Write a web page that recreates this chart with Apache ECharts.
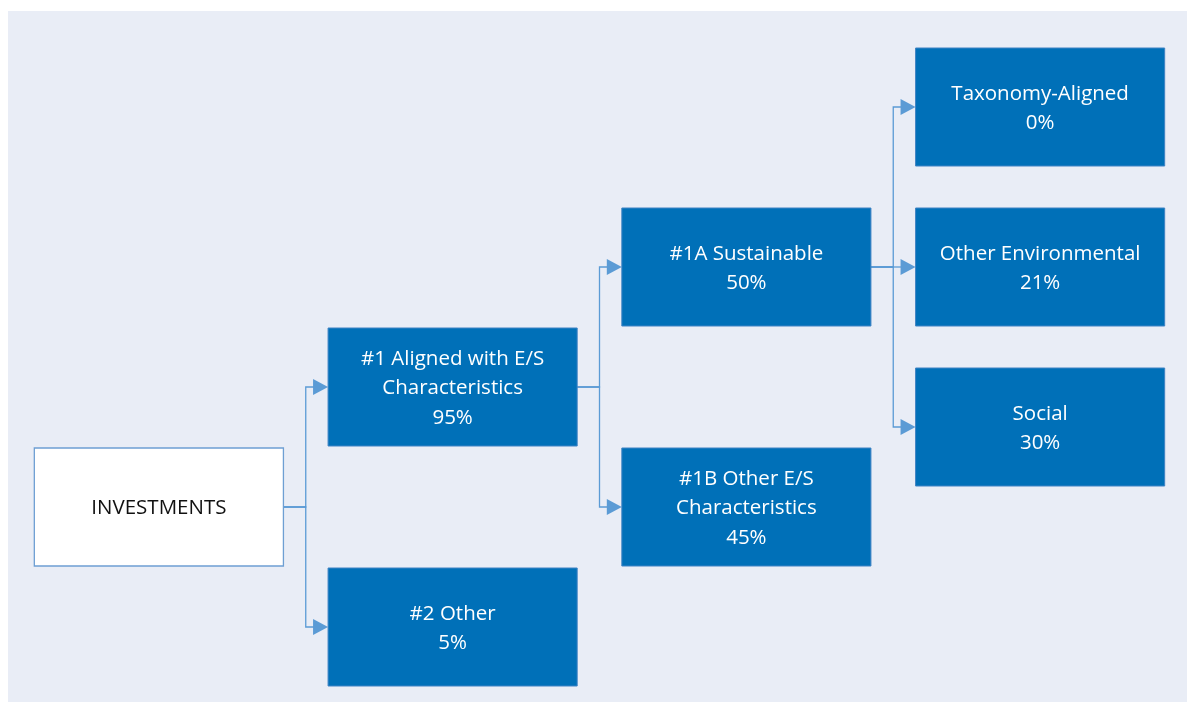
<!DOCTYPE html>
<html>
<head>
<meta charset="utf-8">
<script src="https://cdn.jsdelivr.net/npm/echarts@6/dist/echarts.min.js"></script>
<style>
html,body{margin:0;padding:0;background:#ffffff;}
#chart{width:1187px;height:702px;}
</style>
</head>
<body>
<div id="chart"></div>
<script>
// ---- data ----
const nodeNames = [
  'INVESTMENTS',
  '#1 Aligned with E/S\nCharacteristics',
  '#2 Other',
  '#1A Sustainable',
  '#1B Other E/S\nCharacteristics',
  'Taxonomy-Aligned',
  'Other Environmental',
  'Social'
];
const nodeValues = [null, 95, 5, 50, 45, 0, 21, 30];   // percent
const nodeLevels = [0, 1, 1, 2, 2, 3, 3, 3];           // column
const nodeRows   = [10, 7, 13, 4, 10, 0, 4, 8];        // vertical slot
const nodeParents = [-1, 0, 0, 1, 1, 3, 3, 3];

// ---- build ----
const BOX_W = 0.848;  // in column units
const BOX_H = 2.95;   // in row units
const LINE = '#5B9BD5';
const FILL = '#0070B8';
const FONT = '"Open Sans", "Noto Sans", sans-serif';

const nodeData = nodeNames.map((n, i) => ({
  value: [nodeLevels[i], nodeRows[i]],
  label: nodeValues[i] === null ? n : n + '\n' + nodeValues[i] + '%',
  root: nodeValues[i] === null
}));

const edgeData = [];
nodeParents.forEach((p, i) => {
  if (p >= 0) edgeData.push({value: [nodeLevels[p], nodeRows[p], nodeLevels[i], nodeRows[i]]});
});

const chart = echarts.init(document.getElementById('chart'), null, {renderer: 'canvas'});
chart.setOption({
  backgroundColor: '#ffffff',
  animation: false,
  graphic: [{
    type: 'rect', z: -10, silent: true,
    shape: {x: 8, y: 11, width: 1179, height: 691},
    style: {fill: '#E9EDF6'}
  }],
  grid: {left: 12, right: 0, top: 0, bottom: 0},
  xAxis: {type: 'value', min: -0.5, max: 3.5, show: false},
  yAxis: {type: 'value', min: -2.675, max: 14.875, inverse: true, show: false},
  series: [
    {
      type: 'custom',
      z: 1,
      data: edgeData.map(d => d.value),
      renderItem: function (params, api) {
        const p = api.coord([api.value(0), api.value(1)]);
        const c = api.coord([api.value(2), api.value(3)]);
        const sz = api.size([BOX_W, BOX_H]);
        const px = p[0] + sz[0] / 2;
        const cx = c[0] - sz[0] / 2;
        const mx = (px + cx) / 2;
        const arrowLen = 15, arrowH = 8;
        return {
          type: 'group',
          children: [
            {
              type: 'polyline',
              shape: {points: [[px, p[1]], [mx, p[1]], [mx, c[1]], [cx - arrowLen + 1, c[1]]]},
              style: {stroke: LINE, lineWidth: 1.3, fill: null}
            },
            {
              type: 'polygon',
              shape: {points: [[cx - arrowLen, c[1] - arrowH], [cx, c[1]], [cx - arrowLen, c[1] + arrowH]]},
              style: {fill: LINE}
            }
          ]
        };
      }
    },
    {
      type: 'custom',
      z: 2,
      data: nodeData.map(d => d.value),
      renderItem: function (params, api) {
        const d = nodeData[params.dataIndex];
        const c = api.coord([api.value(0), api.value(1)]);
        const sz = api.size([BOX_W, BOX_H]);
        return {
          type: 'group',
          children: [
            {
              type: 'rect',
              shape: {x: c[0] - sz[0] / 2, y: c[1] - sz[1] / 2, width: sz[0], height: sz[1]},
              style: d.root ? {fill: '#ffffff', stroke: '#6E9FD3', lineWidth: 1.3}
                            : {fill: FILL, stroke: '#3F83C4', lineWidth: 1}
            },
            {
              type: 'text',
              x: c[0], y: c[1] + 1.5,
              style: {
                text: d.label,
                fill: d.root ? '#111111' : '#ffffff',
                font: '20.5px ' + FONT,
                lineHeight: 29.5,
                align: 'center',
                verticalAlign: 'middle'
              }
            }
          ]
        };
      }
    }
  ]
});
</script>
</body>
</html>
